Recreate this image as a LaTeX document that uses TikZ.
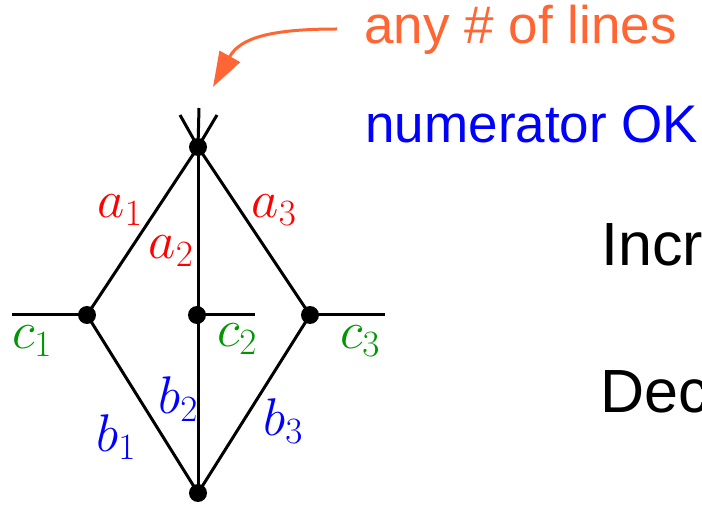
\RequirePackage{fix-cm}
\documentclass[tikz,border=0pt]{standalone}
\usepackage{fontspec}
\setsansfont{Liberation Sans}
\usetikzlibrary{arrows.meta}
\definecolor{anyorange}{RGB}{255,102,51}
\definecolor{cgreen}{RGB}{0,150,0}

\begin{document}
\begin{tikzpicture}[
  x=1pt, y=-1pt, line width=3pt,
  dot/.style={circle,fill=black,inner sep=0pt,minimum size=18pt},
  lab/.style={inner sep=0pt,font=\fontsize{53}{64}\selectfont},
  txt/.style={inner sep=0pt,anchor=base west,font=\sffamily\fontsize{53}{64}\selectfont},
  big/.style={txt,font=\sffamily\fontsize{61}{72}\selectfont}
]
  \clip (0,0) rectangle (702,505);
  % vertices
  \node[dot] (t) at (198,147) {};
  \node[dot] (l) at (87,315)  {};
  \node[dot] (m) at (197,315) {};
  \node[dot] (r) at (310,315) {};
  \node[dot] (b) at (198,493) {};
  % free ends
  \coordinate (tu) at (199,108);
  \coordinate (tl) at (180,115);
  \coordinate (tr) at (217,115);
  \coordinate (lo) at (12,315);
  \coordinate (mo) at (255,315);
  \coordinate (ro) at (385,315);
  % edges
  \draw (l.center) -- (t.center) -- (r.center);
  \draw (l.center) -- (b.center) -- (r.center);
  \draw (t.center) -- (b.center);
  \draw (t.center) -- (tu); \draw (t.center) -- (tl); \draw (t.center) -- (tr);
  \draw (lo) -- (l.center); \draw (m.center) -- (mo); \draw (r.center) -- (ro);
  % labels
  \node[lab,red] (a1) at (120,210) {$a_1$};
  \node[lab,red] (a2) at (171,251) {$a_2$};
  \node[lab,red] (a3) at (274,210) {$a_3$};
  \node[lab,cgreen] (c1) at (32,341) {$c_1$};
  \node[lab,cgreen] (c2) at (237,339) {$c_2$};
  \node[lab,cgreen] (c3) at (360,341) {$c_3$};
  \node[lab,blue] (b1) at (116,437) {$b_1$};
  \node[lab,blue] (b2) at (178,399) {$b_2$};
  \node[lab,blue] (b3) at (283,421) {$b_3$};
  % text on the right
  \node[txt,anyorange] (any) at (363,44) {any \# of lines};
  \node[txt,blue] (num) at (364,143) {numerator OK};
  \node[big] (inc) at (600,266) {Incr};
  \node[big] (dec) at (599,412) {Dec};
  % arrow to the open lines
  \coordinate (from) at (337,29);
  \coordinate (tip) at (213,87);
  \draw[anyorange,-{Triangle[length=35pt,width=23pt]}]
    (from) .. controls (270,29) and (240,38) .. (tip);
\end{tikzpicture}
\end{document}
